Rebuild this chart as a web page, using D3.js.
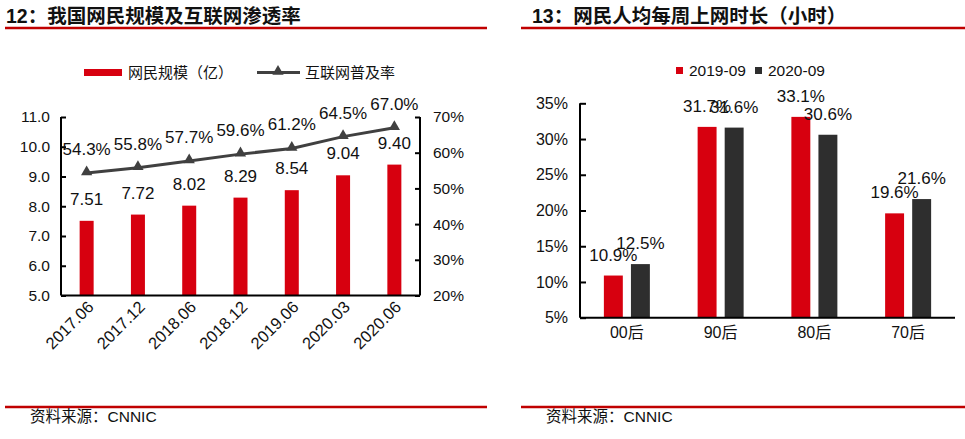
<!DOCTYPE html>
<html><head><meta charset="utf-8">
<script src="https://cdn.jsdelivr.net/npm/d3@7"></script>
<style>
html,body{margin:0;padding:0;background:#fff;}
svg text{font-family:"Liberation Sans","Noto Sans CJK SC",sans-serif;}
</style></head>
<body>
<svg id="c" width="965" height="439"></svg>
<script>
// ---- data: chart 12 ----
const periods = ["2017.06","2017.12","2018.06","2018.12","2019.06","2020.03","2020.06"];
const netizens = [7.51,7.72,8.02,8.29,8.54,9.04,9.40];          // 亿
const penetration = [0.543,0.558,0.577,0.596,0.612,0.645,0.670];
const leftTicks = [5,6,7,8,9,10,11];
const rightTicks = [0.2,0.3,0.4,0.5,0.6,0.7];
// ---- data: chart 13 ----
const groups = ["00后","90后","80后","70后"];
const seriesNames = ["2019-09","2020-09"];
const share2019 = [0.109,0.317,0.331,0.196];
const share2020 = [0.125,0.316,0.306,0.216];
const shareTicks = [0.05,0.10,0.15,0.20,0.25,0.30,0.35];

const RED = "#D7000F", DARK = "#2E2E2E", LINE = "#404040", RULE = "#C00000";
const svg = d3.select("#c");

// ---------- titles / rules ----------
function header(x0, x1, tx, title){
  svg.append("text").attr("x", tx).attr("y", 23)
    .attr("font-size", 19.5).attr("font-weight", 700).attr("fill", "#111")
    .text(title);
  svg.append("line").attr("x1", x0).attr("x2", x1).attr("y1", 28).attr("y2", 28)
    .attr("stroke", RULE).attr("stroke-width", 2.5);
  svg.append("line").attr("x1", x0).attr("x2", x1).attr("y1", 407).attr("y2", 407)
    .attr("stroke", RULE).attr("stroke-width", 2.5);
  svg.append("text").attr("x", x0 + 25).attr("y", 422)
    .attr("font-size", 15.5).attr("fill", "#111")
    .text("资料来源：CNNIC");
}
header(5, 487, 6, "12：我国网民规模及互联网渗透率");
header(521, 965, 532, "13：网民人均每周上网时长（小时）");

// ---------- chart 12 ----------
{
  const x = d3.scaleBand().domain(periods).range([61, 420]);
  const yL = d3.scaleLinear().domain([5, 11]).range([295.5, 117]);
  const yR = d3.scaleLinear().domain([0.2, 0.7]).range([295.5, 117]);
  const g = svg.append("g");
  const bw = 14;
  const cx = d => x(d) + x.bandwidth() / 2;

  g.selectAll("rect.bar").data(periods).join("rect")
    .attr("x", (d) => cx(d) - bw / 2)
    .attr("y", (d, i) => yL(netizens[i]))
    .attr("width", bw)
    .attr("height", (d, i) => yL(5) - yL(netizens[i]))
    .attr("fill", RED);

  // axes
  const axL = g.append("g").attr("transform", "translate(61,0)")
    .call(d3.axisLeft(yL).tickValues(leftTicks).tickFormat(d3.format(".1f")).tickSize(-5).tickPadding(11));
  const axR = g.append("g").attr("transform", "translate(420,0)")
    .call(d3.axisRight(yR).tickValues(rightTicks).tickFormat(d3.format(".0%")).tickSize(-5).tickPadding(13));
  const axB = g.append("g").attr("transform", "translate(0,295.5)")
    .call(d3.axisBottom(x).tickSize(0).tickFormat(""));
  [axL, axR, axB].forEach(a => {
    a.select(".domain").attr("stroke", "#000").attr("stroke-width", 2);
    a.selectAll(".tick line").attr("stroke", "#000").attr("stroke-width", 2);
    a.selectAll(".tick text").attr("font-size", 15.5).attr("fill", "#111")
      .attr("font-family", "Liberation Sans, sans-serif");
  });
  axL.select(".domain").attr("d", "M0,117V295.5");
  axR.select(".domain").attr("d", "M0,117V295.5");
  axB.select(".domain").attr("d", "M61,0H420");

  // rotated x labels
  g.selectAll("text.xl").data(periods).join("text")
    .attr("class", "xl")
    .attr("transform", d => `translate(${cx(d) + 8},${308}) rotate(-45)`)
    .attr("text-anchor", "end").attr("font-size", 16.5).attr("fill", "#111")
    .text(d => d);

  // line
  const line = d3.line().x((d, i) => cx(periods[i])).y(d => yR(d));
  g.append("path").datum(penetration).attr("d", line)
    .attr("fill", "none").attr("stroke", LINE).attr("stroke-width", 3);
  const tri = d3.symbol().type(d3.symbolTriangle).size(55);
  g.selectAll("path.mk").data(penetration).join("path")
    .attr("class", "mk")
    .attr("transform", (d, i) => `translate(${cx(periods[i])},${yR(d) - 1})`)
    .attr("d", tri).attr("fill", LINE);

  // data labels
  g.selectAll("text.bl").data(netizens).join("text")
    .attr("class", "bl")
    .attr("x", (d, i) => cx(periods[i])).attr("y", d => yL(d) - 16)
    .attr("text-anchor", "middle").attr("font-size", 17).attr("fill", "#111")
    .text(d => d.toFixed(2));
  g.selectAll("text.ll").data(penetration).join("text")
    .attr("class", "ll")
    .attr("x", (d, i) => cx(periods[i])).attr("y", d => yR(d) - 18)
    .attr("text-anchor", "middle").attr("font-size", 17).attr("fill", "#111")
    .text(d => (d * 100).toFixed(1) + "%");

  // legend
  const lg = svg.append("g");
  lg.append("rect").attr("x", 84).attr("y", 69).attr("width", 38).attr("height", 7).attr("fill", RED);
  lg.append("text").attr("x", 128).attr("y", 78).attr("font-size", 15).attr("fill", "#111").text("网民规模（亿）");
  lg.append("line").attr("x1", 257).attr("x2", 300).attr("y1", 72.5).attr("y2", 72.5)
    .attr("stroke", LINE).attr("stroke-width", 3);
  lg.append("path").attr("transform", "translate(278,71.5)").attr("d", tri).attr("fill", LINE);
  lg.append("text").attr("x", 305).attr("y", 78).attr("font-size", 15).attr("fill", "#111").text("互联网普及率");
}

// ---------- chart 13 ----------
{
  const x = d3.scaleBand().domain(groups).range([580, 955]);
  const y = d3.scaleLinear().domain([0.05, 0.35]).range([317.7, 103.3]);
  const sub = d3.scaleBand().domain(seriesNames).range([-23, 23]).paddingInner(0.3);
  const g = svg.append("g");
  const cols = [RED, DARK];
  const data = [share2019, share2020];
  const gc = d => x(d) + x.bandwidth() / 2;

  seriesNames.forEach((s, k) => {
    g.selectAll("rect.s" + k).data(groups).join("rect")
      .attr("class", "s" + k)
      .attr("x", d => gc(d) + sub(s))
      .attr("y", (d, i) => y(data[k][i]))
      .attr("width", sub.bandwidth())
      .attr("height", (d, i) => y(0.05) - y(data[k][i]))
      .attr("fill", cols[k]);
  });

  const axL = g.append("g").attr("transform", "translate(580,0)")
    .call(d3.axisLeft(y).tickValues(shareTicks).tickFormat(d3.format(".0%")).tickSize(-6).tickPadding(12));
  const axB = g.append("g").attr("transform", "translate(0,317.7)")
    .call(d3.axisBottom(x).tickSize(0).tickPadding(9));
  [axL, axB].forEach(a => {
    a.select(".domain").attr("stroke", "#000").attr("stroke-width", 2);
    a.selectAll(".tick line").attr("stroke", "#000").attr("stroke-width", 2);
    a.selectAll(".tick text").attr("font-size", 16).attr("fill", "#111");
  });
  axL.select(".domain").attr("d", "M0,103.3V317.7");
  axB.select(".domain").attr("d", "M580,0H955");

  seriesNames.forEach((s, k) => {
    g.selectAll("text.l" + k).data(groups).join("text")
      .attr("class", "l" + k)
      .attr("x", d => gc(d) + sub(s) + sub.bandwidth() / 2)
      .attr("y", (d, i) => y(data[k][i]) - 15)
      .attr("text-anchor", "middle").attr("font-size", 17).attr("fill", "#111")
      .text((d, i) => (data[k][i] * 100).toFixed(1) + "%");
  });

  const lg = svg.append("g");
  const lx = [676, 755];
  seriesNames.forEach((s, k) => {
    lg.append("rect").attr("x", lx[k]).attr("y", 67).attr("width", 7).attr("height", 7).attr("fill", cols[k]);
    lg.append("text").attr("x", lx[k] + 13).attr("y", 76).attr("font-size", 15.5).attr("fill", "#111").text(s);
  });
}
</script>
</body></html>
